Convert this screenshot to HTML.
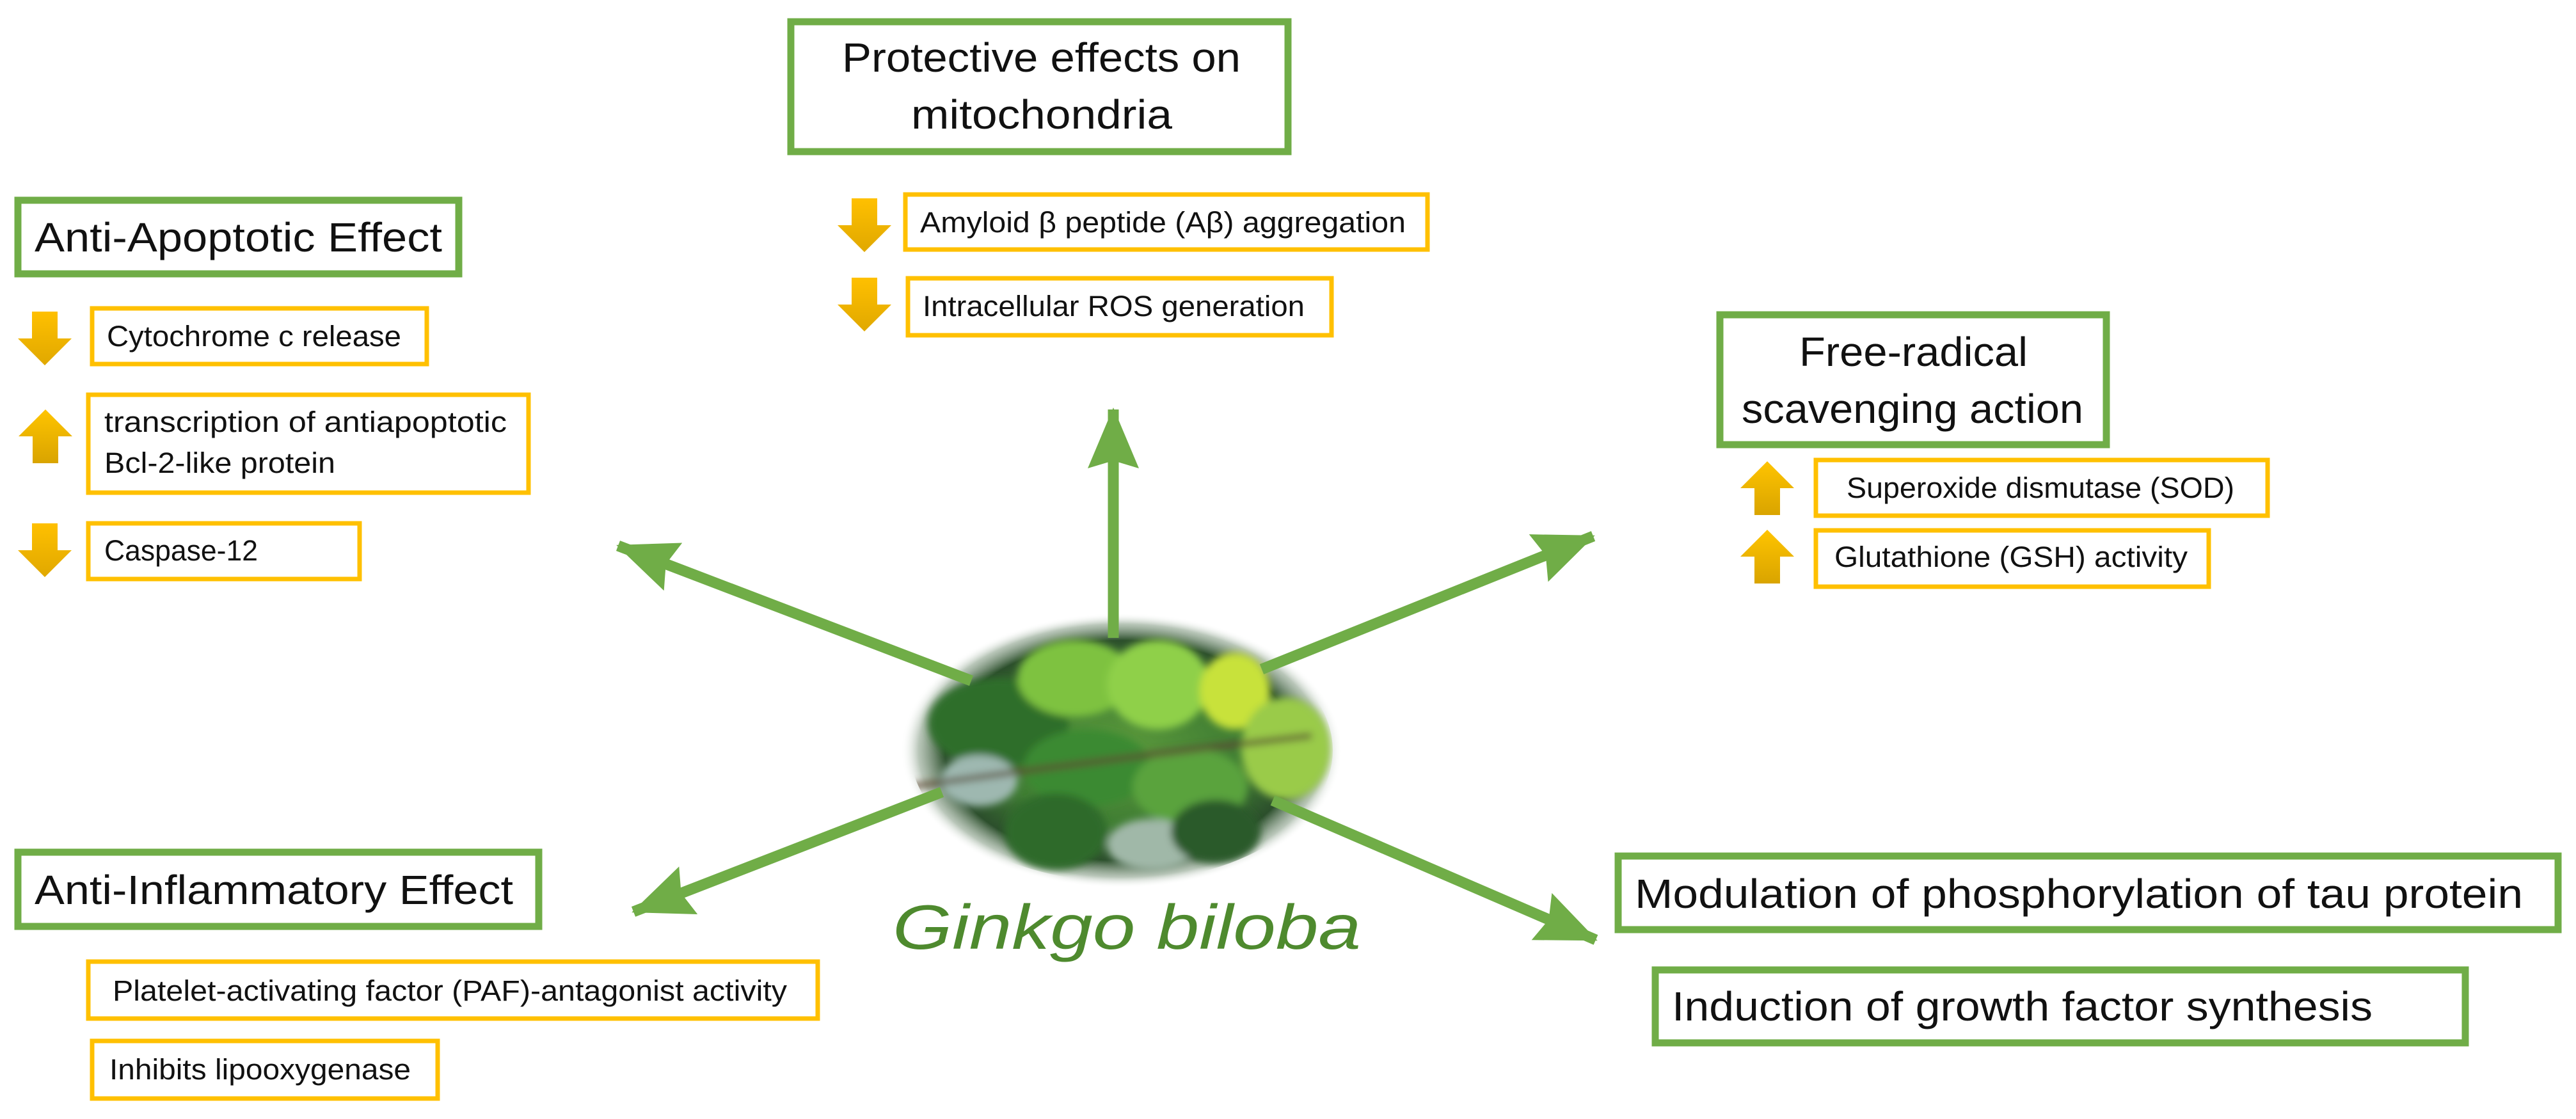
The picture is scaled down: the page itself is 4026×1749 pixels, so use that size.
<!DOCTYPE html>
<html><head><meta charset="utf-8"><style>
html,body{margin:0;padding:0;background:#fff;}
svg{display:block;}
text{font-family:"Liberation Sans",sans-serif;fill:#111;}
</style></head><body>
<svg width="4026" height="1749" viewBox="0 0 4026 1749" xmlns="http://www.w3.org/2000/svg">
<defs>
<marker id="ah" markerUnits="userSpaceOnUse" markerWidth="100" markerHeight="90" refX="92" refY="40" orient="auto">
<path d="M0,0 L95,40 L0,80 L12,40 z" fill="#70ad47"/>
</marker>
<linearGradient id="yg" x1="0" y1="0" x2="0" y2="1"><stop offset="0" stop-color="#ffc000"/><stop offset="1" stop-color="#e0a800"/></linearGradient>
<linearGradient id="ygu" x1="0" y1="1" x2="0" y2="0"><stop offset="0" stop-color="#d9a400"/><stop offset="1" stop-color="#ffc400"/></linearGradient>
<radialGradient id="img" cx="0.5" cy="0.5" r="0.5">
<stop offset="0" stop-color="#5c9a3c"/>
<stop offset="0.55" stop-color="#3f7d33"/>
<stop offset="0.8" stop-color="#2c4f2c"/>
<stop offset="0.92" stop-color="#8aa08a" stop-opacity="0.6"/>
<stop offset="1" stop-color="#ffffff" stop-opacity="0"/>
</radialGradient>
<filter id="bl"><feGaussianBlur stdDeviation="6"/></filter>
<clipPath id="cl"><ellipse cx="1753" cy="1173" rx="330" ry="205"/></clipPath>
<g id="dn"><path d="M-20,0 h40 v42 h22 l-42,42 l-42,-42 h22 z" fill="url(#yg)"/></g>
<g id="up"><path d="M-20,84 h40 v-42 h22 l-42,-42 l-42,42 h22 z" fill="url(#ygu)"/></g>
</defs>

<!-- center image -->
<ellipse cx="1753" cy="1173" rx="345" ry="215" fill="url(#img)"/>
<g clip-path="url(#cl)" filter="url(#bl)">
<ellipse cx="1560" cy="1130" rx="110" ry="70" fill="#2f6e2a"/>
<ellipse cx="1680" cy="1060" rx="90" ry="60" fill="#7ec23f"/>
<ellipse cx="1810" cy="1070" rx="80" ry="70" fill="#8fd04a"/>
<ellipse cx="1930" cy="1080" rx="55" ry="60" fill="#c8e23a"/>
<ellipse cx="2010" cy="1170" rx="70" ry="80" fill="#9acb4a"/>
<ellipse cx="1530" cy="1220" rx="60" ry="40" fill="#9eb8b0"/>
<ellipse cx="1700" cy="1200" rx="100" ry="60" fill="#3b8a30"/>
<ellipse cx="1860" cy="1230" rx="90" ry="60" fill="#5aa33c"/>
<ellipse cx="1650" cy="1300" rx="80" ry="60" fill="#2e6a2a"/>
<ellipse cx="1800" cy="1320" rx="70" ry="40" fill="#a0b8a8"/>
<ellipse cx="1900" cy="1300" rx="70" ry="50" fill="#2a5a2a"/>
<path d="M1420,1230 Q1700,1190 2050,1150" stroke="#5a4a30" stroke-width="8" fill="none"/>
</g>

<!-- connector arrows -->
<g stroke="#70ad47" stroke-width="17" fill="none" marker-end="url(#ah)">
<line x1="1740" y1="997" x2="1740" y2="640"/>
<line x1="1518" y1="1064" x2="966" y2="853"/>
<line x1="1972" y1="1046" x2="2490" y2="838"/>
<line x1="1472" y1="1238" x2="990" y2="1425"/>
<line x1="1989" y1="1251" x2="2494" y2="1469"/>
</g>

<text x="1395" y="1483" font-size="98" font-style="italic" style="fill:#4e8a2e" textLength="732" lengthAdjust="spacingAndGlyphs">Ginkgo biloba</text>

<!-- green boxes -->
<g fill="none" stroke="#70ad47" stroke-width="11">
<rect x="1236" y="34" width="777" height="203"/>
<rect x="28" y="313" width="689" height="115"/>
<rect x="2688" y="492" width="604" height="203"/>
<rect x="28" y="1332" width="814" height="116"/>
<rect x="2529" y="1338" width="1469" height="115"/>
<rect x="2587" y="1516" width="1266" height="114"/>
</g>
<!-- yellow boxes -->
<g fill="none" stroke="#ffc000" stroke-width="7">
<rect x="144" y="482" width="523" height="87"/>
<rect x="138" y="617" width="688" height="153"/>
<rect x="138" y="818" width="424" height="87"/>
<rect x="1415" y="304" width="816" height="86"/>
<rect x="1419" y="435" width="662" height="89"/>
<rect x="2838" y="719" width="706" height="87"/>
<rect x="2838" y="829" width="614" height="88"/>
<rect x="138" y="1503" width="1140" height="89"/>
<rect x="144" y="1627" width="540" height="90"/>
</g>

<!-- yellow arrows -->
<use href="#dn" x="70" y="487"/>
<use href="#up" x="71" y="640"/>
<use href="#dn" x="70" y="818"/>
<use href="#dn" x="1351" y="310"/>
<use href="#dn" x="1351" y="434"/>
<use href="#up" x="2762" y="721"/>
<use href="#up" x="2762" y="828"/>

<!-- titles -->
<g font-size="64">
<text x="1316" y="112" textLength="623" lengthAdjust="spacingAndGlyphs">Protective effects on</text>
<text x="1424" y="201" textLength="408" lengthAdjust="spacingAndGlyphs">mitochondria</text>
<text x="54" y="393" textLength="637" lengthAdjust="spacingAndGlyphs">Anti-Apoptotic Effect</text>
<text x="2812" y="572" textLength="357" lengthAdjust="spacingAndGlyphs">Free-radical</text>
<text x="2722" y="661" textLength="534" lengthAdjust="spacingAndGlyphs">scavenging action</text>
<text x="54" y="1413" textLength="748" lengthAdjust="spacingAndGlyphs">Anti-Inflammatory Effect</text>
<text x="2555" y="1419" textLength="1388" lengthAdjust="spacingAndGlyphs">Modulation of phosphorylation of tau protein</text>
<text x="2613" y="1595" textLength="1095" lengthAdjust="spacingAndGlyphs">Induction of growth factor synthesis</text>
</g>
<g font-size="45">
<text x="167" y="541" textLength="460" lengthAdjust="spacingAndGlyphs">Cytochrome c release</text>
<text x="163" y="675" textLength="629" lengthAdjust="spacingAndGlyphs">transcription of antiapoptotic</text>
<text x="163" y="739" textLength="361" lengthAdjust="spacingAndGlyphs">Bcl-2-like protein</text>
<text x="163" y="876" textLength="240" lengthAdjust="spacingAndGlyphs">Caspase-12</text>
<text x="1438" y="363" textLength="759" lengthAdjust="spacingAndGlyphs">Amyloid β peptide (Aβ) aggregation</text>
<text x="1442" y="494" textLength="597" lengthAdjust="spacingAndGlyphs">Intracellular ROS generation</text>
<text x="2886" y="778" textLength="606" lengthAdjust="spacingAndGlyphs">Superoxide dismutase (SOD)</text>
<text x="2867" y="886" textLength="552" lengthAdjust="spacingAndGlyphs">Glutathione (GSH) activity</text>
<text x="176" y="1564" textLength="1054" lengthAdjust="spacingAndGlyphs">Platelet-activating factor (PAF)-antagonist activity</text>
<text x="171" y="1687" textLength="471" lengthAdjust="spacingAndGlyphs">Inhibits lipooxygenase</text>
</g>
</svg>
</body></html>
